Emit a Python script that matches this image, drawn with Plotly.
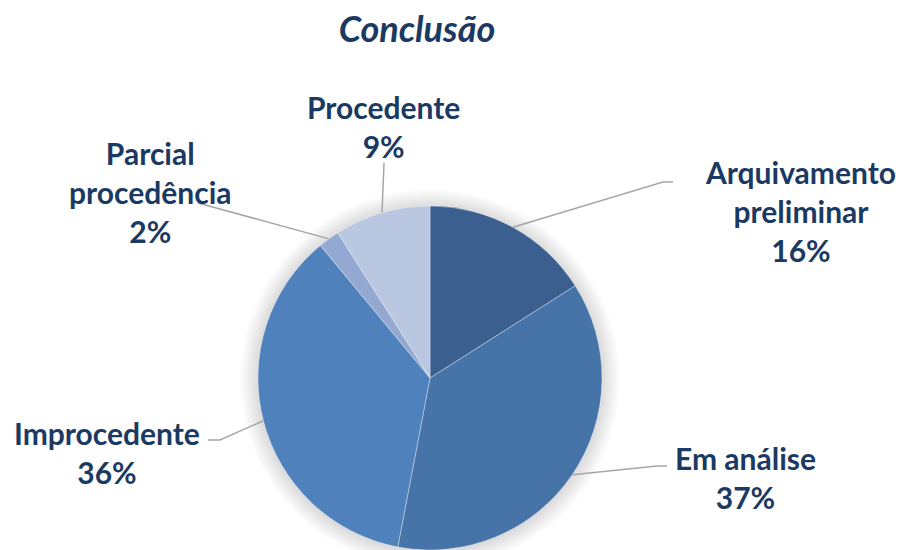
import math
import plotly.graph_objects as go

# ---- data ----
labels = ["Arquivamento preliminar", "Em análise", "Improcedente", "Parcial procedência", "Procedente"]
label_lines = [["Arquivamento", "preliminar"], ["Em análise"], ["Improcedente"], ["Parcial", "procedência"], ["Procedente"]]
values = [16, 37, 36, 2, 9]
colors = ["#3B5F8E", "#4674A9", "#4F81BD", "#94A9D1", "#B9C7E0"]

# ---- layout constants (pixels) ----
W, H = 903, 550
CX, CY, R = 430, 378, 172
TEXT_COLOR = "#1B3A63"
FONT = "Lato"
# label block centres and leader-line elbow / end points
label_pos = [(800, 211), (745, 477), (107, 452), (150, 192), (383, 126)]
leader_elbow = [(663, 182), (657, 466), (220, 440), (198, 203), (384, 163)]
leader_end = [(673, 182), (667, 466), (208, 440), (198, 203), (384, 163)]

fig = go.Figure()

# soft shadow behind the pie
for i in range(18, 0, -1):
    rr = R + i
    fig.add_shape(type="circle", xref="x", yref="y",
                  x0=CX - rr, x1=CX + rr, y0=CY - rr + 1, y1=CY + rr + 1,
                  fillcolor="rgba(0,0,0,0.009)", line=dict(width=0), layer="below")

fig.add_trace(go.Pie(
    labels=labels, values=values, sort=False, direction="clockwise", rotation=0,
    marker=dict(colors=colors, line=dict(color="rgba(255,255,255,0.45)", width=0.8)),
    textinfo="none", hoverinfo="label+percent", showlegend=False,
    domain=dict(x=[(CX - R) / W, (CX + R) / W], y=[(H - CY - R) / H, (H - CY + R) / H]),
))

# invisible helper axes in pixel coordinates for leader lines and labels
fig.add_trace(go.Scatter(x=[0, W], y=[0, H], mode="markers", marker=dict(opacity=0),
                         hoverinfo="skip", showlegend=False))

total = sum(values)
cum = 0
for i, v in enumerate(values):
    mid = (cum + v / 2) / total * 2 * math.pi
    cum += v
    sx = CX + R * math.sin(mid)
    sy = CY - R * math.cos(mid)
    ex, ey = leader_elbow[i]
    fx, fy = leader_end[i]
    fig.add_trace(go.Scatter(x=[sx, ex, fx], y=[sy, ey, fy], mode="lines",
                             line=dict(color="#A6A6A6", width=1.5),
                             hoverinfo="skip", showlegend=False))
    pct = round(v / total * 100)
    text = "<br>".join(label_lines[i] + [f"{pct}%"])
    lx, ly = label_pos[i]
    fig.add_annotation(x=lx, y=ly, xref="x", yref="y", text=text, showarrow=False,
                       xanchor="center", yanchor="middle", align="center",
                       font=dict(family=FONT, size=30, color=TEXT_COLOR, weight="bold"))

fig.update_layout(
    width=W, height=H, margin=dict(l=0, r=0, t=0, b=0),
    paper_bgcolor="white", plot_bgcolor="rgba(0,0,0,0)",
    xaxis=dict(range=[0, W], visible=False, fixedrange=True),
    yaxis=dict(range=[H, 0], visible=False, fixedrange=True),
    title=dict(text="Conclusão", x=417 / W, y=1 - 29 / H, xanchor="center", yanchor="middle",
               font=dict(family=FONT, size=36, color=TEXT_COLOR, weight="bold", style="italic")),
)

fig.write_html("out.html", config={"displayModeBar": False},
               post_script="document.body.style.margin='0';")
